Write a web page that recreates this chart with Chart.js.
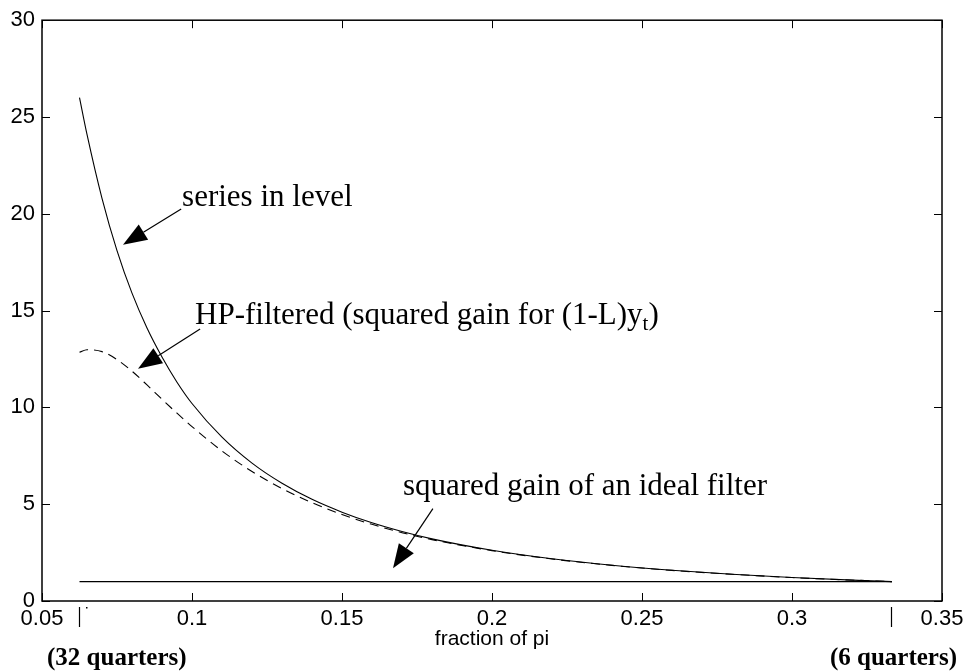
<!DOCTYPE html>
<html>
<head>
<meta charset="utf-8">
<script src="https://cdn.jsdelivr.net/npm/chart.js@4.4.1/dist/chart.umd.min.js"></script>
<style>
  body { margin: 0; background: #fff; }
  #wrap { width: 969px; height: 671px; }
</style>
</head>
<body>
<div id="wrap"><canvas id="gainChart" width="969" height="671"></canvas></div>
<script>
// frequency as a fraction of pi
const freq = [0.0625, 0.065, 0.07, 0.075, 0.08, 0.085, 0.09, 0.095, 0.1, 0.11, 0.12, 0.13,
    0.14, 0.15, 0.16, 0.17, 0.18, 0.2, 0.22, 0.24, 0.26, 0.28, 0.3, 0.3333];
const levelGain = [26.0, 24.1, 20.8, 18.1, 15.9, 14.1, 12.6, 11.3, 10.2, 8.46, 7.12, 6.08,
    5.25, 4.59, 4.04, 3.59, 3.21, 2.62, 2.18, 1.85, 1.59, 1.38, 1.21, 1.0];
const hpGain = [12.85, 12.98, 12.88, 12.47, 11.87, 11.16, 10.42, 9.70, 9.01, 7.75, 6.69, 5.81,
    5.08, 4.47, 3.96, 3.53, 3.17, 2.60, 2.17, 1.84, 1.58, 1.38, 1.21, 1.0];
const idealFreq = [0.0625, 0.3333];
const idealGain = [1, 1];

const xTicks = [0.05, 0.1, 0.15, 0.2, 0.25, 0.3, 0.35];
const yTicks = [0, 5, 10, 15, 20, 25, 30];

// annotation texts, anchored in data units
const notes = [
    { parts: [['series in level', 0]], at: [0.0967, 20.4], tail: [0.0964, 20.25], tip: [0.077, 18.4] },
    { parts: [['HP-filtered (squared gain for (1-L)y', 0], ['t', 1], [')', 0]],
      at: [0.101, 14.3], tail: [0.1027, 14.05], tip: [0.082, 12.0] },
    { parts: [['squared gain of an ideal filter', 0]], at: [0.1703, 5.45], tail: [0.1803, 4.77], tip: [0.167, 1.69] }
];

const tickFont = { family: 'Liberation Sans', size: 22 };
const titleFont = { family: 'Liberation Sans', size: 21 };
const serif = '"Liberation Serif", serif';

function pts(xs, ys) {
    return xs.map((x, i) => ({ x: x, y: ys[i] }));
}

const framePlugin = {
    id: 'frame',
    afterDraw(chart) {
        const ctx = chart.ctx;
        const a = chart.chartArea;
        const xs = chart.scales.x, ys = chart.scales.y;
        ctx.save();
        ctx.strokeStyle = '#000';
        ctx.lineWidth = 1.5;
        ctx.strokeRect(a.left, a.top, a.right - a.left, a.bottom - a.top);
        ctx.lineWidth = 1;
        ctx.beginPath();
        xTicks.forEach(v => {
            const px = Math.round(xs.getPixelForValue(v)) + 0.5;
            ctx.moveTo(px, a.bottom); ctx.lineTo(px, a.bottom - 8);
            ctx.moveTo(px, a.top); ctx.lineTo(px, a.top + 8);
        });
        yTicks.forEach(v => {
            const py = Math.round(ys.getPixelForValue(v)) + 0.5;
            ctx.moveTo(a.left, py); ctx.lineTo(a.left + 8, py);
            ctx.moveTo(a.right, py); ctx.lineTo(a.right - 8, py);
        });
        ctx.stroke();

        // quarter markers under the axis
        ctx.lineWidth = 1.2;
        ctx.beginPath();
        [idealFreq[0], idealFreq[1]].forEach(v => {
            const px = Math.round(xs.getPixelForValue(v)) - 0.5;
            ctx.moveTo(px, a.bottom + 6); ctx.lineTo(px, a.bottom + 26);
        });
        ctx.stroke();
        ctx.fillStyle = '#000';
        ctx.fillRect(Math.round(xs.getPixelForValue(idealFreq[0])) + 6, a.bottom + 6, 1.5, 1.5);

        ctx.font = 'bold 25px ' + serif;
        ctx.textBaseline = 'alphabetic';
        ctx.textAlign = 'left';
        ctx.fillText('(32 quarters)', 47, a.bottom + 64);
        ctx.textAlign = 'right';
        ctx.fillText('(6 quarters)', 957, a.bottom + 64);

        // labelled arrows
        ctx.textAlign = 'left';
        notes.forEach(n => {
            let x = xs.getPixelForValue(n.at[0]);
            const y = ys.getPixelForValue(n.at[1]);
            n.parts.forEach(([txt, sub]) => {
                ctx.font = (sub ? '21px ' : '31px ') + serif;
                ctx.fillText(txt, x, y + (sub ? 6 : 0));
                x += ctx.measureText(txt).width;
            });
            const tx = xs.getPixelForValue(n.tail[0]), ty = ys.getPixelForValue(n.tail[1]);
            const hx = xs.getPixelForValue(n.tip[0]), hy = ys.getPixelForValue(n.tip[1]);
            const ang = Math.atan2(hy - ty, hx - tx);
            const len = 24, half = 9;
            const bx = hx - len * Math.cos(ang), by = hy - len * Math.sin(ang);
            ctx.lineWidth = 1.2;
            ctx.beginPath();
            ctx.moveTo(tx, ty); ctx.lineTo(bx, by);
            ctx.stroke();
            ctx.beginPath();
            ctx.moveTo(hx, hy);
            ctx.lineTo(bx + half * Math.sin(ang), by - half * Math.cos(ang));
            ctx.lineTo(bx - half * Math.sin(ang), by + half * Math.cos(ang));
            ctx.closePath();
            ctx.fill();
        });
        ctx.restore();
    }
};

new Chart(document.getElementById('gainChart'), {
    type: 'line',
    data: {
        datasets: [{
            label: 'series in level',
            data: pts(freq, levelGain),
            borderColor: '#000',
            borderWidth: 1.1,
            pointRadius: 0,
            cubicInterpolationMode: 'monotone'
        }, {
            label: 'HP-filtered',
            data: pts(freq, hpGain),
            borderColor: '#000',
            borderWidth: 1.1,
            borderDash: [9, 6],
            pointRadius: 0,
            cubicInterpolationMode: 'monotone'
        }, {
            label: 'ideal filter',
            data: pts(idealFreq, idealGain),
            borderColor: '#000',
            borderWidth: 1.1,
            pointRadius: 0
        }]
    },
    options: {
        responsive: false,
        animation: false,
        layout: { padding: { top: 16, right: 27, bottom: 0, left: 0 } },
        plugins: { legend: { display: false }, tooltip: { enabled: false } },
        scales: {
            x: {
                type: 'linear',
                min: 0.05,
                max: 0.35,
                afterBuildTicks: s => { s.ticks = xTicks.map(v => ({ value: v })); },
                afterFit: s => { s.height = 70; },
                ticks: {
                    font: tickFont,
                    color: '#000',
                    padding: 5,
                    maxRotation: 0,
                    autoSkip: false,
                    callback: v => String(Number(v.toFixed(2)))
                },
                grid: { display: false, drawTicks: false },
                border: { display: false },
                title: {
                    display: true,
                    text: 'fraction of pi',
                    font: titleFont,
                    color: '#000',
                    padding: { top: 0, bottom: 19 }
                }
            },
            y: {
                min: 0,
                max: 30,
                afterBuildTicks: s => { s.ticks = yTicks.map(v => ({ value: v })); },
                afterFit: s => { s.width = 42; },
                ticks: { font: tickFont, color: '#000', padding: 7 },
                grid: { display: false, drawTicks: false },
                border: { display: false }
            }
        }
    },
    plugins: [framePlugin]
});
</script>
</body>
</html>
